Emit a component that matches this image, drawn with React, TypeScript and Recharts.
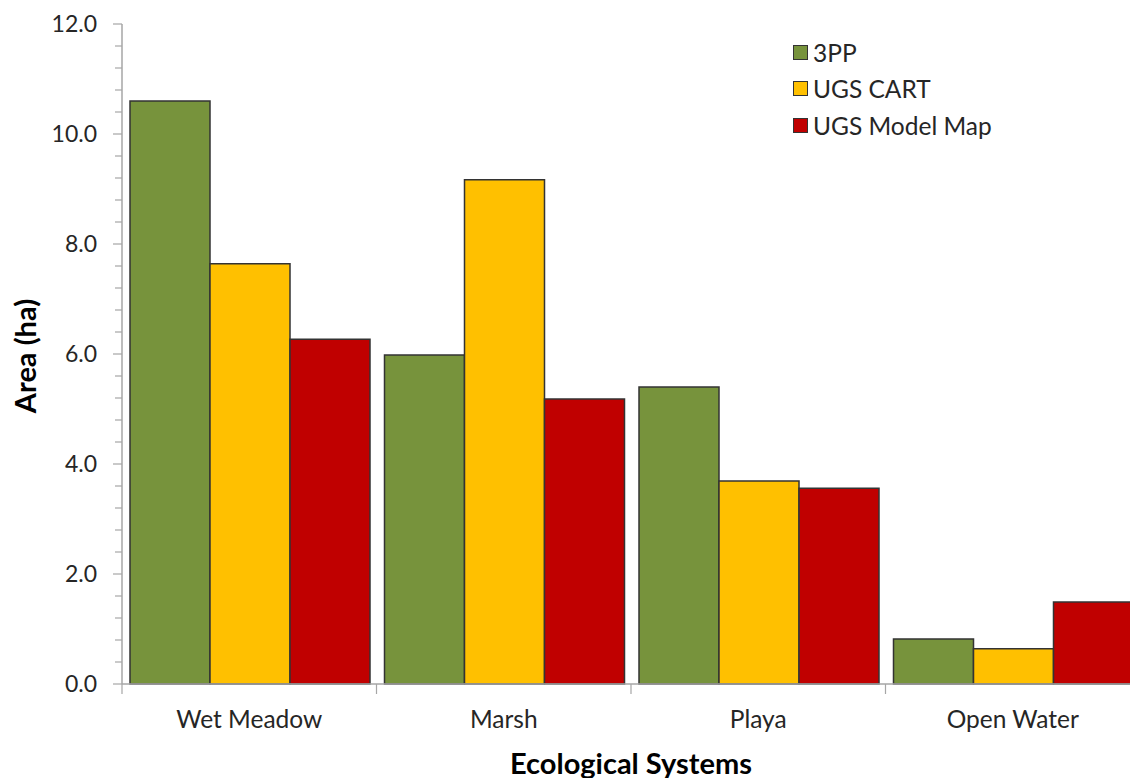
import React from 'react';
import { BarChart, Bar, XAxis, YAxis, Legend } from 'recharts';

const categories = ['Wet Meadow', 'Marsh', 'Playa', 'Open Water'];
const series3PP = [10.6, 5.98, 5.4, 0.82];
const seriesCART = [7.64, 9.17, 3.69, 0.64];
const seriesModel = [6.27, 5.18, 3.56, 1.49];
const majorTicks = [0, 2, 4, 6, 8, 10, 12];
const allTicks = [0, 0.4, 0.8, 1.2, 1.6, 2, 2.4, 2.8, 3.2, 3.6, 4, 4.4, 4.8, 5.2, 5.6, 6, 6.4, 6.8, 7.2, 7.6, 8, 8.4, 8.8, 9.2, 9.6, 10, 10.4, 10.8, 11.2, 11.6, 12];

const data = categories.map((c, i) => ({
  name: c,
  p3: series3PP[i],
  cart: seriesCART[i],
  model: seriesModel[i],
}));

const FONT = 'Lato, "Open Sans", sans-serif';
const AXIS = '#A6A6A6';
const TEXT = '#262626';

const YTick = (props: any) => {
  const { x, y, payload } = props;
  const v = payload.value;
  const isMajor = majorTicks.some((m) => Math.abs(m - v) < 1e-6);
  return (
    <g>
      <line x1={x - (isMajor ? 9 : 7)} x2={x} y1={y} y2={y} stroke={AXIS} strokeWidth={1.2} />
      {isMajor && (
        <text x={x - 25} y={y} dy={8} textAnchor="end" fontSize={23} fill={TEXT} fontFamily={FONT}>
          {v.toFixed(1)}
        </text>
      )}
    </g>
  );
};

const XTick = (props: any) => {
  const { x, y, payload } = props;
  const off = payload.offset || 0;
  return (
    <g>
      <line x1={x - off} x2={x - off} y1={y} y2={y + 10} stroke={AXIS} strokeWidth={1.2} />
      <text x={x} y={y + 44} textAnchor="middle" fontSize={24.5} fill={TEXT} fontFamily={FONT}>
        {payload.value}
      </text>
    </g>
  );
};

const renderLegend = (props: any) => {
  const { payload } = props;
  return (
    <div style={{ fontFamily: FONT }}>
      {payload.map((e: any) => (
        <div key={e.value} style={{ display: 'flex', alignItems: 'center', height: 36.5 }}>
          <span
            style={{
              display: 'inline-block',
              width: 13,
              height: 13,
              background: e.color,
              border: '1.5px solid #333',
              marginRight: 5,
            }}
          />
          <span style={{ fontSize: 24.5, color: TEXT }}>{e.value}</span>
        </div>
      ))}
    </div>
  );
};

export default function App() {
  return (
    <div style={{ position: 'fixed', left: 0, top: 0, width: 1130, height: 778, overflow: 'hidden', background: '#fff' }}>
      <BarChart
        width={1140}
        height={778}
        data={data}
        margin={{ top: 24, right: 0, left: 22, bottom: 0 }}
        barCategoryGap={8}
        barGap={0}
      >
        <XAxis
          dataKey="name"
          height={94}
          stroke={AXIS}
          strokeWidth={1.5}
          tickLine={false}
          tickSize={0}
          tickMargin={0}
          interval={0}
          tick={<XTick />}
          label={{
            content: (p: any) => {
              const vb = p.viewBox;
              return (
                <text
                  x={vb.x + vb.width / 2}
                  y={vb.y + 90}
                  textAnchor="middle"
                  fontSize={29}
                  fontWeight="bold"
                  fill="#000"
                  fontFamily={FONT}
                >
                  Ecological Systems
                </text>
              );
            },
          }}
        />
        <YAxis
          width={100}
          domain={[0, 12]}
          ticks={allTicks}
          interval={0}
          stroke={AXIS}
          strokeWidth={1.5}
          tickLine={false}
          tickSize={0}
          tickMargin={0}
          tick={<YTick />}
          label={{
            content: (p: any) => {
              const vb = p.viewBox;
              const cx = 24;
              const cy = vb.y + vb.height / 2 + 2;
              return (
                <text
                  x={cx}
                  y={cy}
                  transform={`rotate(-90 ${cx} ${cy})`}
                  textAnchor="middle"
                  dominantBaseline="central"
                  fontSize={29}
                  fontWeight="bold"
                  fill="#000"
                  fontFamily={FONT}
                >
                  Area (ha)
                </text>
              );
            },
          }}
        />
        <Legend
          content={renderLegend}
          layout="vertical"
          verticalAlign="middle"
          align="center"
          wrapperStyle={{ position: 'absolute', left: 793, top: 34, width: 260 }}
        />
        <Bar dataKey="p3" name="3PP" fill="#77933C" stroke="#333" strokeWidth={1.5} isAnimationActive={false} />
        <Bar dataKey="cart" name="UGS CART" fill="#FFC000" stroke="#333" strokeWidth={1.5} isAnimationActive={false} />
        <Bar dataKey="model" name="UGS Model Map" fill="#C00000" stroke="#333" strokeWidth={1.5} isAnimationActive={false} />
      </BarChart>
    </div>
  );
}
